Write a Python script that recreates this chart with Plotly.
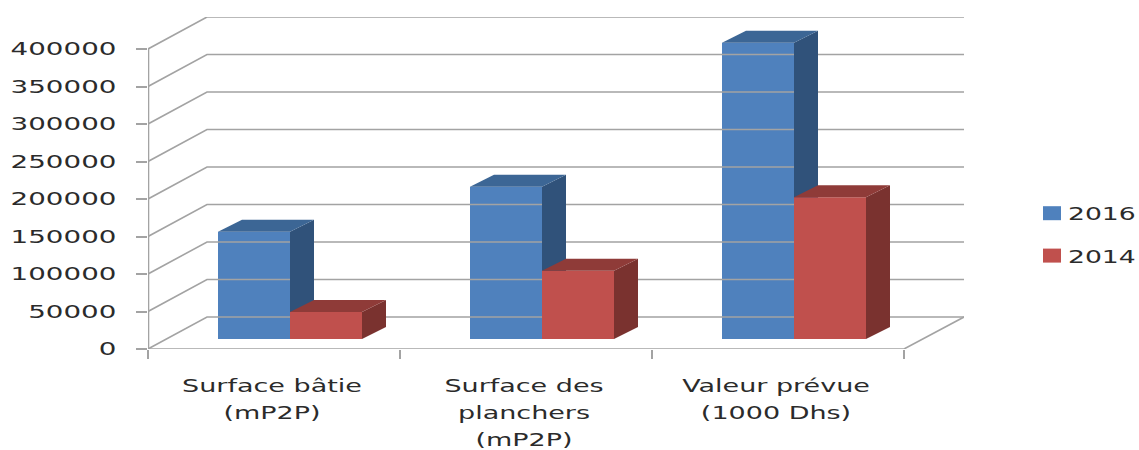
import plotly.graph_objects as go

categories = ["Surface bâtie<br>(mP2P)", "Surface des<br>planchers<br>(mP2P)", "Valeur prévue<br>(1000 Dhs)"]
values_2016 = [143000, 203000, 395000]
values_2014 = [36000, 91000, 189000]
y_ticks = [0, 50000, 100000, 150000, 200000, 250000, 300000, 350000, 400000]

W, H = 1139, 450
L, R, T, B = 148, 175, 17, 101
px_x = 252.0      # pixels per category
px_y = 0.00075    # pixels per value unit
wall_dx, wall_dy = 59 / px_x, 32 / px_y
bar_dx, bar_dy = 24 / px_x, 12 / px_y
floor_y = 10 / px_y
bar_w = 72 / px_x
x_max = (W - L - R) / px_x
y_max = (H - T - B) / px_y
group_offset = 142 / px_x

GRID = "#a3a3a3"
TEXT = "#2b2b2b"
FONT = "DejaVu Sans"

fig = go.Figure()

# walls and floor
gx, gy = [], []
for v in y_ticks:
    gx += [0, wall_dx, x_max, None]
    gy += [v, v + wall_dy, v + wall_dy, None]
fig.add_trace(go.Scatter(x=gx, y=gy, mode="lines", line=dict(color=GRID, width=1.6),
                         showlegend=False, hoverinfo="skip", cliponaxis=False))
n = len(categories)
fig.add_trace(go.Scatter(x=[0, n, x_max], y=[0, 0, wall_dy], mode="lines",
                         line=dict(color=GRID, width=1.6),
                         showlegend=False, hoverinfo="skip", cliponaxis=False))
fig.add_trace(go.Scatter(x=[0, 0], y=[0, max(y_ticks)], mode="lines",
                         line=dict(color=GRID, width=2.6),
                         showlegend=False, hoverinfo="skip", cliponaxis=False))


def add_series(name, values, side, front, top, side_col, xa, ya):
    xs = [i + group_offset + side * bar_w / 2 for i in range(len(values))]
    fig.add_trace(go.Bar(name=name, x=xs, y=values, base=[floor_y] * len(values), width=bar_w,
                         legendgroup=name,
                         marker=dict(color=front, line=dict(width=0)), xaxis=xa, yaxis=ya))
    for xc, v in zip(xs, values):
        x0, x1 = xc - bar_w / 2, xc + bar_w / 2
        y0, y1 = floor_y, floor_y + v
        fig.add_trace(go.Scatter(x=[x1, x1 + bar_dx, x1 + bar_dx, x1, x1],
                                 y=[y0, y0 + bar_dy, y1 + bar_dy, y1, y0],
                                 mode="lines", fill="toself", fillcolor=side_col,
                                 line=dict(width=0, color=side_col), showlegend=False,
                                 hoverinfo="skip", xaxis=xa, yaxis=ya))
        fig.add_trace(go.Scatter(x=[x0, x0 + bar_dx, x1 + bar_dx, x1, x0],
                                 y=[y1, y1 + bar_dy, y1 + bar_dy, y1, y1],
                                 mode="lines", fill="toself", fillcolor=top,
                                 line=dict(width=0, color=top), showlegend=False,
                                 hoverinfo="skip", xaxis=xa, yaxis=ya))


add_series("2016", values_2016, -1, "#4F81BD", "#3C6695", "#30527A", "x", "y")
add_series("2014", values_2014, 1, "#C0504D", "#8F3B38", "#7A322F", "x2", "y2")

fig.update_layout(
    width=W, height=H, margin=dict(l=L, r=R, t=T, b=B), autosize=False,
    paper_bgcolor="white", plot_bgcolor="white", barmode="overlay",
    font=dict(family=FONT, color=TEXT, size=18),
    xaxis=dict(range=[0, x_max], showgrid=False, zeroline=False, showline=False, fixedrange=True,
               automargin=False,
               tickmode="array", tickvals=[i + 0.5 for i in range(n)], ticktext=categories,
               ticks="", ticklabelstandoff=24, tickfont=dict(size=18, family=FONT, color=TEXT),
               minor=dict(tickmode="array", tickvals=list(range(n + 1)), ticks="outside",
                          ticklen=9, tickwidth=1.6, tickcolor=GRID, showgrid=False)),
    yaxis=dict(range=[0, y_max], showgrid=False, zeroline=False, showline=False, fixedrange=True,
               automargin=False,
               tickmode="array", tickvals=y_ticks, ticktext=[str(v) for v in y_ticks],
               ticks="outside", ticklen=11, tickwidth=1.6, tickcolor=GRID,
               ticklabelstandoff=16, tickfont=dict(size=18, family=FONT, color=TEXT)),
    xaxis2=dict(range=[0, x_max], overlaying="x", visible=False, fixedrange=True, automargin=False),
    yaxis2=dict(range=[0, y_max], overlaying="y", visible=False, fixedrange=True, automargin=False),
    legend=dict(x=(1032 - L) / (W - L - R), y=1 - (195 - T) / (H - T - B), xanchor="left", yanchor="top",
                font=dict(size=18, family=FONT, color=TEXT), traceorder="grouped",
                itemwidth=30, tracegroupgap=16, bgcolor="rgba(0,0,0,0)"),
)

# Widen the label glyphs as in the stretched reference and open up the line spacing.
post = """
document.documentElement.style.overflow = 'hidden';
document.body.style.margin = '0';
document.body.style.overflow = 'hidden';
function stretch(sel, k, anchor, shift) {
  document.querySelectorAll(sel).forEach(function (t) {
    var b = t.getBBox();
    var ax = anchor === 'r' ? b.x + b.width : anchor === 'l' ? b.x : b.x + b.width / 2;
    var old = t.getAttribute('transform') || '';
    t.setAttribute('transform', old + ' translate(' + (ax + shift) + ',0) scale(' + k + ',1) translate(' + (-ax) + ',0)');
  });
}
document.querySelectorAll('.xtick text').forEach(function (t) {
  t.querySelectorAll('tspan.line').forEach(function (s, i) { s.setAttribute('dy', (i * 27) + 'px'); });
});
document.querySelectorAll('.legend .legendpoints path').forEach(function (p) { p.setAttribute('d', 'M9,7H-9V-7H9Z'); });
document.querySelectorAll('.legend, .legend *').forEach(function (e) {
  if (e.hasAttribute('clip-path')) { e.removeAttribute('clip-path'); }
});
stretch('.ytick text', 1.54, 'r', 0);
stretch('.xtick text', 1.5, 'c', -2);
stretch('.legendtext', 1.48, 'l', -4);
"""
fig.write_html("out.html", post_script=post, config={"displayModeBar": False})
